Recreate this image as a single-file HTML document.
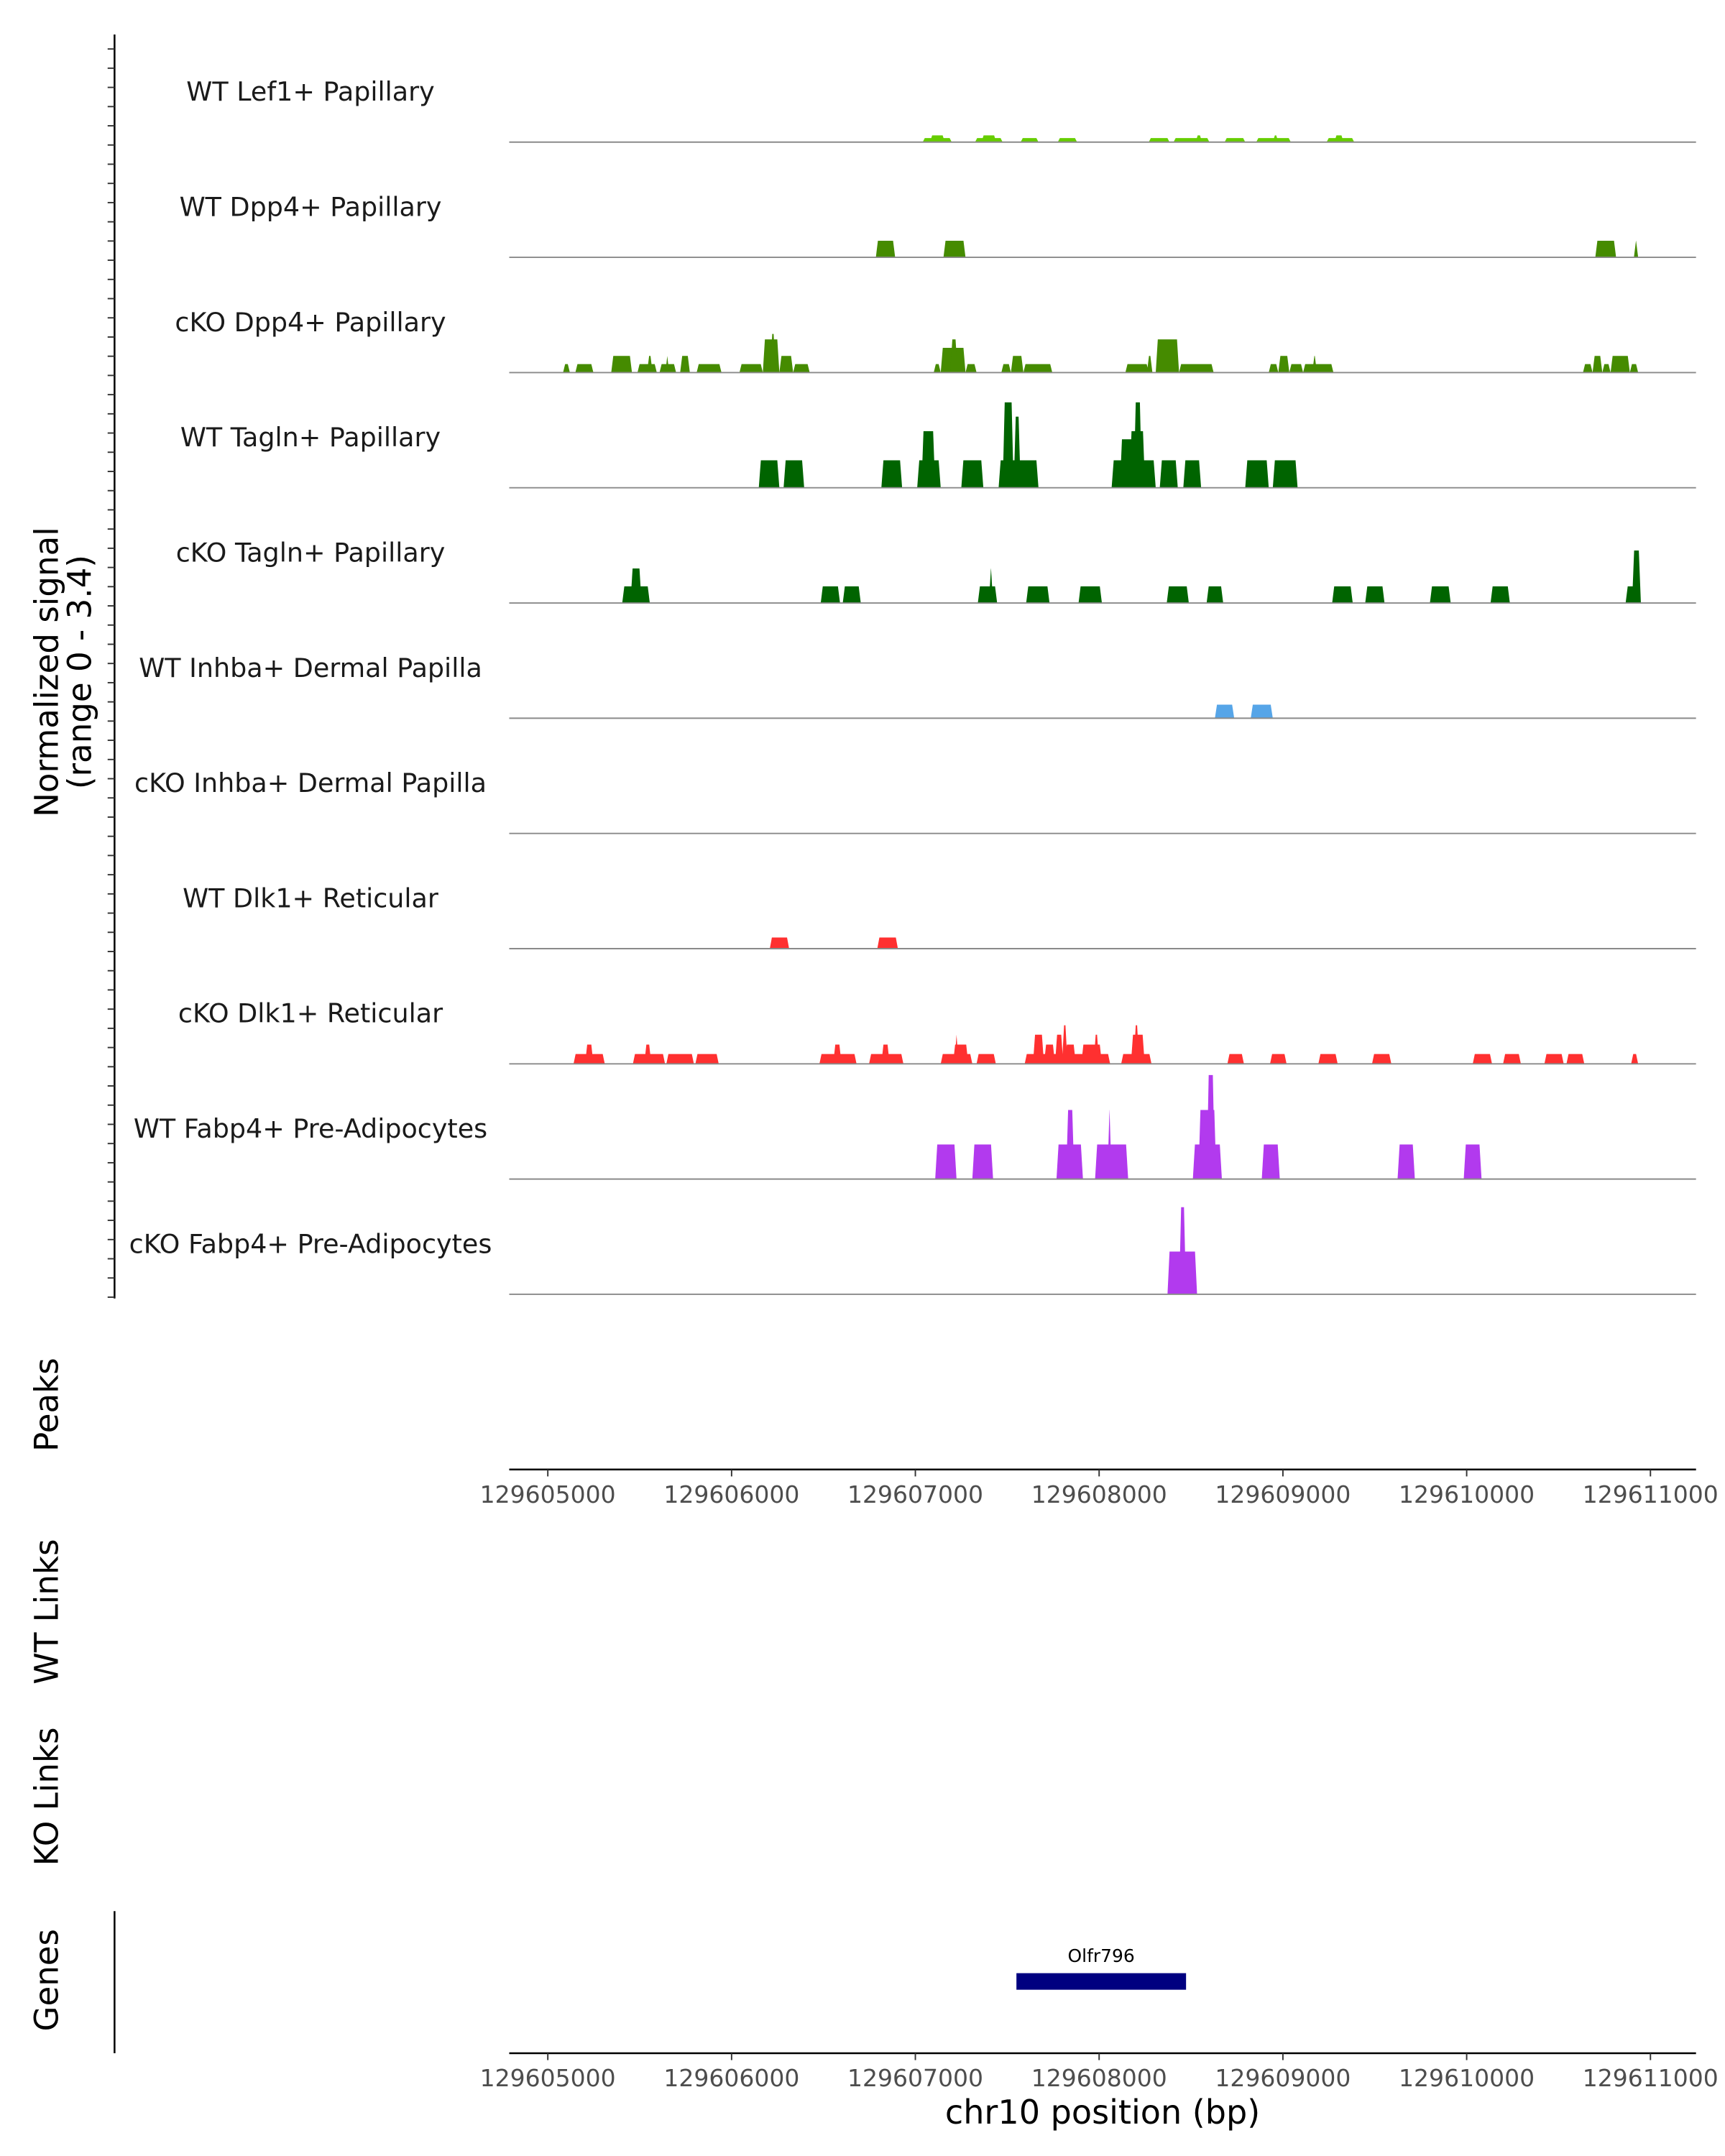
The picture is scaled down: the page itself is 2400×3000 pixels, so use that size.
<!DOCTYPE html>
<html><head><meta charset="utf-8"><style>
html,body{margin:0;padding:0;background:#fff;}
svg{display:block;font-family:"DejaVu Sans","Liberation Sans",sans-serif;}
</style></head><body>
<svg id="chart" width="2400" height="3000" viewBox="0 0 1250 1562.5" preserveAspectRatio="none" xmlns="http://www.w3.org/2000/svg">
<g id="tracks"></g>
<g id="axes"></g>
</svg>
<script>
// genomic window (bp offsets relative to ORIGIN)
const ORIGIN = 129605000;
const tickLabels = ["129605000","129606000","129607000","129608000","129609000","129610000","129611000"];
const trackNames = ["WT Lef1+ Papillary","WT Dpp4+ Papillary","cKO Dpp4+ Papillary","WT Tagln+ Papillary","cKO Tagln+ Papillary","WT Inhba+ Dermal Papilla","cKO Inhba+ Dermal Papilla","WT Dlk1+ Reticular","cKO Dlk1+ Reticular","WT Fabp4+ Pre-Adipocytes","cKO Fabp4+ Pre-Adipocytes"];
const trackColors = ["#66CD00","#458B00","#458B00","#006400","#006400","#56A5E8","#56A5E8","#FF3030","#FF3030","#B23AEE","#B23AEE"];
// blocks: [start offset bp, end offset bp, normalized signal]
const wtLef1 = [[2040,2198,0.12],[2080,2160,0.2],[2325,2475,0.12],[2360,2440,0.2],[2573,2670,0.12],[2775,2880,0.12],[3270,3383,0.12],[3405,3600,0.12],[3525,3560,0.2],[3683,3795,0.12],[3855,4043,0.12],[3945,3975,0.2],[4238,4388,0.12],[4280,4330,0.2]];
const wtDpp4 = [[1785,1890,0.49],[2153,2273,0.49],[5700,5813,0.49],[5910,5933,0.49]];
const koDpp4 = [[83,120,0.25],[150,248,0.25],[345,458,0.49],[488,593,0.25],[540,570,0.49],[608,698,0.25],[640,660,0.49],[720,773,0.49],[810,945,0.25],[1043,1170,0.25],[1170,1260,0.98],[1210,1240,1.14],[1260,1335,0.49],[1335,1425,0.25],[2100,2138,0.25],[2138,2273,0.73],[2190,2230,0.98],[2273,2333,0.25],[2468,2520,0.25],[2520,2588,0.49],[2588,2745,0.25],[3143,3270,0.25],[3260,3290,0.49],[3308,3435,0.98],[3435,3623,0.25],[3923,3975,0.25],[3975,4035,0.49],[4035,4110,0.25],[4110,4275,0.25],[4160,4185,0.49],[5633,5685,0.25],[5685,5738,0.49],[5738,5783,0.25],[5783,5888,0.49],[5888,5933,0.25]];
const wtTagln = [[1148,1260,0.81],[1283,1395,0.81],[1815,1928,0.81],[2010,2138,0.81],[2033,2108,1.67],[2250,2370,0.81],[2453,2670,0.81],[2475,2535,2.52],[2535,2573,2.1],[3068,3308,0.81],[3113,3188,1.43],[3188,3233,2.52],[3165,3250,1.67],[3330,3428,0.81],[3458,3555,0.81],[3795,3923,0.81],[3945,4080,0.81]];
const koTagln = [[405,555,0.49],[450,510,1.02],[1485,1590,0.49],[1605,1703,0.49],[2340,2445,0.49],[2400,2423,1.02],[2603,2730,0.49],[2888,3015,0.49],[3368,3488,0.49],[3585,3675,0.49],[4268,4380,0.49],[4448,4553,0.49],[4800,4913,0.49],[5130,5235,0.49],[5865,5918,0.49],[5900,5948,1.55]];
const wtInhba = [[3630,3735,0.4],[3825,3945,0.4]];
const koInhba = [];
const wtDlk1 = [[1208,1313,0.33],[1793,1905,0.33]];
const koDlk1 = [[140,310,0.29],[203,248,0.57],[463,638,0.29],[525,563,0.57],[645,795,0.29],[803,930,0.29],[1478,1680,0.29],[1553,1598,0.57],[1748,1935,0.29],[1815,1860,0.57],[2138,2310,0.29],[2205,2288,0.57],[2213,2235,0.86],[2333,2438,0.29],[2595,3060,0.29],[2640,2700,0.86],[2700,2760,0.57],[2760,2805,0.86],[2798,2828,1.14],[2813,2873,0.57],[2903,3015,0.57],[2970,3000,0.86],[3120,3285,0.29],[3173,3248,0.86],[3188,3218,1.14],[3698,3788,0.29],[3930,4020,0.29],[4193,4298,0.29],[4485,4590,0.29],[5033,5138,0.29],[5198,5295,0.29],[5423,5528,0.29],[5543,5640,0.29],[5895,5933,0.29]];
const wtFabp4 = [[2108,2224,1.02],[2310,2423,1.02],[2768,2912,1.02],[2820,2865,2.04],[2978,3158,1.02],[3045,3068,2.04],[3510,3668,1.02],[3540,3638,2.04],[3585,3630,3.07],[3885,3983,1.02],[4624,4718,1.02],[4984,5081,1.02]];
const koFabp4 = [[3372,3533,1.26],[3435,3473,2.57]];
const trackData = [wtLef1,wtDpp4,koDpp4,wtTagln,koTagln,wtInhba,koInhba,wtDlk1,koDlk1,wtFabp4,koFabp4];
const geneStart = 2550, geneEnd = 3473;

const NS = "http://www.w3.org/2000/svg";
const X0 = 369, X1 = 1229;
const bpStart = -210, bpEnd = 6248;
function xs(bp){ return X0 + (bp - bpStart) / (bpEnd - bpStart) * (X1 - X0); }
const YMAX = 3.4, TRACK_H = 83.5, FIRST_BASE = 103;
function baseY(i){ return FIRST_BASE + i * TRACK_H; }
function hs(v){ return v / YMAX * TRACK_H; }
function mk(tag, attrs, parent){ const e = document.createElementNS(NS, tag); for (const k in attrs) e.setAttribute(k, attrs[k]); parent.appendChild(e); return e; }

const gT = document.getElementById('tracks');
const gA = document.getElementById('axes');

trackNames.forEach((name, i) => {
  const y0 = baseY(i);
  const g = mk('g', {}, gT);
  
  
  trackData[i].forEach(b => {
    const a = xs(b[0]), c = xs(b[1]), h = hs(b[2]);
    const sl = Math.min(1.5, (c - a) / 2);
    const p = mk('polygon', {points: `${a},${y0} ${a+sl},${y0-h} ${c-sl},${y0-h} ${c},${y0}`, fill: trackColors[i]}, g);
    
    
  });
  const ln = mk('line', {x1: X0, x2: X1, y1: y0, y2: y0, stroke: '#8a8a8a', 'stroke-width': 1}, g);
  
  
  const t = mk('text', {x: 225, y: y0 - 30, 'text-anchor': 'middle', 'font-size': 19, fill: '#1a1a1a'}, g);
  t.textContent = name;
  
  
});

// left y axis with ticks
const yl = mk('line', {x1: 83, x2: 83, y1: 25, y2: 941, stroke: '#000', 'stroke-width': 1.3}, gA);


for (let y = 35.5; y <= 941; y += TRACK_H / 6) {
  const tk = mk('line', {x1: 78, x2: 83, y1: y, y2: y, stroke: '#333', 'stroke-width': 1}, gA);
  
  
}
function vlabel(txt, x, y, name, size){
  const t = mk('text', {x: x, y: y, 'text-anchor': 'middle', 'font-size': size || 23.5, fill: '#000', transform: `rotate(-90 ${x} ${y})`}, gA);
  t.textContent = txt;
  
  
}
vlabel('Normalized signal', 42, 487, 'y-axis-title');
vlabel('(range 0 - 3.4)', 66, 487, 'y-axis-range');
vlabel('Peaks', 42, 1018, 'peaks-label');
vlabel('WT Links', 42, 1168, 'wt-links-label');
vlabel('KO Links', 42, 1302, 'ko-links-label');
vlabel('Genes', 42, 1435, 'genes-label');

function xAxis(y, name){
  const l = mk('line', {x1: X0, x2: X1, y1: y, y2: y, stroke: '#000', 'stroke-width': 1.3}, gA);
  
  
  tickLabels.forEach(lbl => {
    const x = xs(Number(lbl) - ORIGIN);
    const tk = mk('line', {x1: x, x2: x, y1: y, y2: y + 5, stroke: '#333', 'stroke-width': 1}, gA);
    
    
    const t = mk('text', {x: x, y: y + 24, 'text-anchor': 'middle', 'font-size': 17.2, fill: '#4d4d4d'}, gA);
    t.textContent = lbl;
    
    
  });
}
xAxis(1065, 'peaks-x-axis');
xAxis(1488, 'genes-x-axis');

const gl = mk('line', {x1: 83, x2: 83, y1: 1385, y2: 1488, stroke: '#000', 'stroke-width': 1.3}, gA);



const gb = mk('rect', {x: xs(geneStart), y: 1430, width: xs(geneEnd) - xs(geneStart), height: 12, fill: '#000080'}, gA);


const gt = mk('text', {x: (xs(geneStart) + xs(geneEnd)) / 2, y: 1422, 'text-anchor': 'middle', 'font-size': 13, fill: '#000'}, gA);
gt.textContent = 'Olfr796';



const xt = mk('text', {x: 799, y: 1539, 'text-anchor': 'middle', 'font-size': 24, fill: '#000'}, gA);
xt.textContent = 'chr10 position (bp)';


</script>
</body></html>
